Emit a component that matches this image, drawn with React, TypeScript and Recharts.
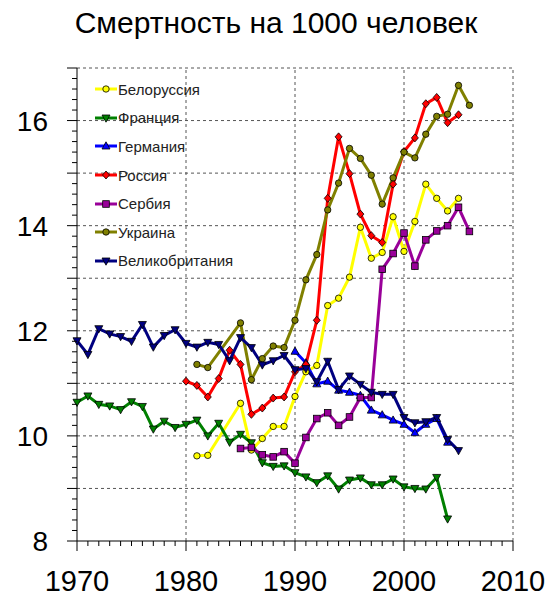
import React from "react";
import { LineChart, Line, XAxis, YAxis, ReferenceLine, Legend } from "recharts";

// Death rate per 1000 people
const belarusStart = 1981;
const belarus = [9.62, 9.63, null, null, 10.62, 9.73, 9.95, 10.18, 10.18, 10.75, 11.22, 11.34, 12.48, 12.62, 13.02, 13.97, 13.38, 13.49, 14.17, 13.51, 14.08, 14.79, 14.52, 14.28, 14.52];

const franceStart = 1970;
const france = [10.64, 10.76, 10.6, 10.57, 10.5, 10.65, 10.56, 10.13, 10.28, 10.16, 10.22, 10.3, 10.0, 10.24, 9.88, 10.03, 9.87, 9.49, 9.42, 9.43, 9.3, 9.22, 9.11, 9.24, 8.99, 9.16, 9.2, 9.07, 9.07, 9.18, 9.03, 9.0, 8.99, 9.21, 8.42];

const germanyStart = 1990;
const germany = [11.61, 11.39, 10.99, 11.04, 10.87, 10.83, 10.77, 10.49, 10.4, 10.3, 10.22, 10.06, 10.22, 10.33, 9.88];

const russiaStart = 1980;
const russia = [11.04, 10.96, 10.74, 11.09, 11.63, 11.36, 10.41, 10.53, 10.72, 10.74, 11.22, 11.36, 12.2, 14.52, 15.69, 14.99, 14.22, 13.81, 13.68, 14.79, 15.41, 15.67, 16.32, 16.44, 15.96, 16.11];

const serbiaStart = 1985;
const serbia = [9.76, 9.78, 9.64, 9.6, 9.7, 9.48, 9.97, 10.33, 10.44, 10.2, 10.36, 10.73, 10.73, 13.17, 13.47, 13.86, 13.23, 13.73, 13.9, 14.0, 14.35, 13.89];

const ukraineStart = 1981;
const ukraine = [11.36, 11.3, null, null, 12.15, 11.07, 11.47, 11.71, 11.68, 12.2, 12.97, 13.45, 14.3, 14.81, 15.47, 15.28, 14.96, 14.41, 14.91, 15.4, 15.29, 15.74, 16.08, 16.12, 16.67, 16.29];

const ukStart = 1970;
const uk = [11.81, 11.55, 12.04, 11.94, 11.89, 11.8, 12.12, 11.69, 11.91, 12.02, 11.76, 11.69, 11.78, 11.74, 11.43, 11.87, 11.68, 11.35, 11.43, 11.53, 11.26, 11.28, 11.03, 11.42, 10.88, 11.14, 10.98, 10.83, 10.79, 10.79, 10.35, 10.25, 10.27, 10.35, 9.93, 9.72];

const yearTicks = [1970, 1980, 1990, 2000, 2010];
const valueTicks = [8, 10, 12, 14, 16];

const series = [
  { key: "by", name: "Белоруссия", start: belarusStart, values: belarus, color: "#ffff00", shape: "circle" },
  { key: "fr", name: "Франция", start: franceStart, values: france, color: "#008000", shape: "down" },
  { key: "de", name: "Германия", start: germanyStart, values: germany, color: "#0000ff", shape: "up" },
  { key: "ru", name: "Россия", start: russiaStart, values: russia, color: "#ff0000", shape: "diamond" },
  { key: "rs", name: "Сербия", start: serbiaStart, values: serbia, color: "#990099", shape: "square" },
  { key: "ua", name: "Украина", start: ukraineStart, values: ukraine, color: "#808000", shape: "circle" },
  { key: "gb", name: "Великобритания", start: ukStart, values: uk, color: "#000080", shape: "down" },
];

const data: Record<string, number | null>[] = [];
for (let y = 1970; y <= 2006; y++) {
  const row: Record<string, number | null> = { year: y };
  series.forEach((s) => {
    const v = s.values[y - s.start];
    row[s.key] = v === undefined ? null : v;
  });
  data.push(row);
}

const minorYears = Array.from({ length: 41 }, (_, i) => 1970 + i);
const minorValues = Array.from({ length: 46 }, (_, i) => Math.round((8 + i * 0.2) * 10) / 10);
const gridYears = [1980, 1990, 2000, 2010];
const gridValues = [9, 10, 11, 12, 13, 14, 15, 16, 17];

const FONT = "'Liberation Sans', Arial, sans-serif";
const TICK = 10;
const X_MARGIN = 19;
const Y_MARGIN = 19;

function Marker({ cx, cy, shape, color }: any) {
  if (cx == null || cy == null) return null;
  const st = { fill: color, stroke: "#000", strokeWidth: 0.8 };
  if (shape === "circle") return <circle cx={cx} cy={cy} r={3.2} {...st} />;
  if (shape === "square") return <rect x={cx - 3.3} y={cy - 3.3} width={6.6} height={6.6} {...st} />;
  if (shape === "diamond")
    return <polygon points={`${cx},${cy - 4} ${cx + 3.5},${cy} ${cx},${cy + 4} ${cx - 3.5},${cy}`} {...st} />;
  if (shape === "up")
    return <polygon points={`${cx},${cy - 4.2} ${cx + 4},${cy + 3} ${cx - 4},${cy + 3}`} {...st} />;
  return <polygon points={`${cx - 4},${cy - 3} ${cx + 4},${cy - 3} ${cx},${cy + 4.2}`} {...st} />;
}

function XTick({ x, y, payload }: any) {
  const v = payload.value;
  const major = v % 10 === 0;
  const axisY = y - X_MARGIN - TICK;
  return (
    <g>
      <line x1={x} x2={x} y1={axisY} y2={axisY + (major ? 10 : 5)} stroke="#000" strokeWidth={1} />
      {yearTicks.includes(v) && (
        <text x={x} y={y} dy="0.71em" textAnchor="middle" fontSize={29} fontFamily={FONT} fill="#000">
          {v}
        </text>
      )}
    </g>
  );
}

function YTick({ x, y, payload }: any) {
  const v = payload.value;
  const major = Math.abs(v - Math.round(v)) < 1e-6;
  const axisX = x + Y_MARGIN + TICK;
  return (
    <g>
      <line x1={axisX - (major ? 10 : 5)} x2={axisX} y1={y} y2={y} stroke="#000" strokeWidth={1} />
      {valueTicks.includes(v) && (
        <text x={x} y={y} dy="0.36em" textAnchor="end" fontSize={28} fontFamily={FONT} fill="#000">
          {v}
        </text>
      )}
    </g>
  );
}

function renderLegend() {
  return (
    <div style={{ fontFamily: FONT }}>
      {series.map((s) => (
        <div key={s.key} style={{ display: "flex", alignItems: "center", height: 28.6 }}>
          <svg width={22} height={12}>
            <line x1={0} x2={22} y1={6} y2={6} stroke={s.color} strokeWidth={3} />
            <Marker cx={11} cy={6} shape={s.shape} color={s.color} />
          </svg>
          <span style={{ fontSize: 15, color: "#222", marginLeft: 1 }}>{s.name}</span>
        </div>
      ))}
    </div>
  );
}

export default function App() {
  return (
    <div style={{ position: "absolute", left: 0, top: 0, width: 559, height: 600, background: "#fff", fontFamily: FONT }}>
      <div
        style={{ position: "absolute", left: 0, top: 8, width: 552, textAlign: "center", fontSize: 30, lineHeight: 1, color: "#000" }}
      >
        Смертность на 1000 человек
      </div>
      <LineChart width={559} height={600} data={data} margin={{ top: 68, right: 46, bottom: 0, left: 0 }}>
        <XAxis
          dataKey="year"
          type="number"
          domain={[1970, 2010]}
          ticks={minorYears}
          interval={0}
          tickSize={TICK}
          tickMargin={X_MARGIN}
          tickLine={false}
          tick={<XTick />}
          height={59}
          axisLine={{ stroke: "#000", strokeWidth: 1 }}
        />
        <YAxis
          type="number"
          domain={[8, 17]}
          ticks={minorValues}
          interval={0}
          tickSize={TICK}
          tickMargin={Y_MARGIN}
          tickLine={false}
          tick={<YTick />}
          width={77}
          axisLine={{ stroke: "#000", strokeWidth: 1 }}
        />
        {gridValues.map((v) => (
          <ReferenceLine key={"h" + v} y={v} stroke="#555" strokeDasharray="3 3" />
        ))}
        {gridYears.map((v) => (
          <ReferenceLine key={"v" + v} x={v} stroke="#555" strokeDasharray="3 3" />
        ))}
        <Legend
          layout="vertical"
          align="center"
          verticalAlign="middle"
          content={renderLegend}
          wrapperStyle={{ position: "absolute", left: 95, top: 75, width: 200, height: 205 }}
        />
        {series.map((s) => (
          <Line
            key={s.key}
            dataKey={s.key}
            name={s.name}
            type="linear"
            stroke={s.color}
            strokeWidth={3}
            connectNulls
            isAnimationActive={false}
            dot={(p: any) => <Marker key={s.key + p.index} cx={p.cx} cy={p.cy} shape={s.shape} color={s.color} />}
            activeDot={false}
          />
        ))}
      </LineChart>
    </div>
  );
}
